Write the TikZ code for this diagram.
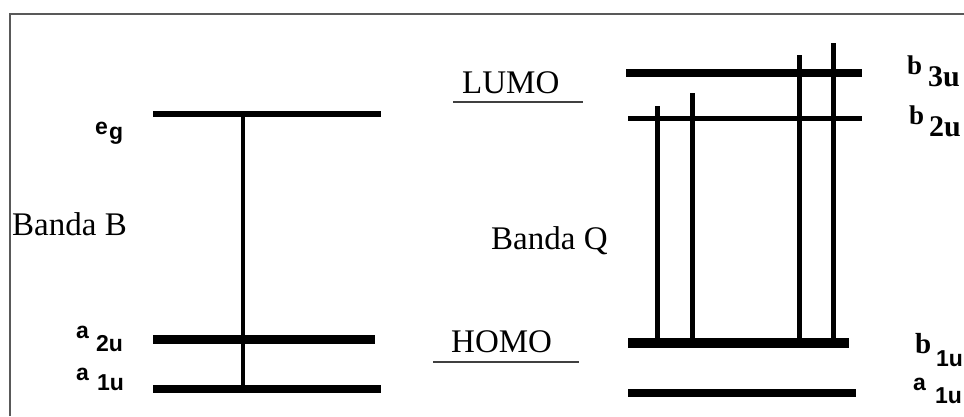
\documentclass[tikz,border=0pt]{standalone}
\usepackage{fontspec}
\setmainfont{Liberation Serif}
\newfontfamily\lsans{Liberation Sans}
\begin{document}
\begin{tikzpicture}[x=1pt,y=-1pt,
  txt/.style={inner sep=0pt,anchor=base west,font=\fontsize{33}{33}\selectfont},
  sml/.style={inner sep=0pt,anchor=base west,font=\lsans\bfseries\fontsize{23}{23}\selectfont},
  bsm/.style={inner sep=0pt,anchor=base west,font=\bfseries\fontsize{#1}{#1}\selectfont},
  frame/.style={draw=black!65,line width=2pt},
  uline/.style={draw=black!75,line width=1.6pt},
  lvl/.style={draw=black,line width=#1},
  trans/.style={draw=black,line width=#1}]
\useasboundingbox (0,0) rectangle (964,416);
\fill[white] (0,0) rectangle (964,416);
% frame
\coordinate (f1) at (10,416);
\coordinate (f2) at (10,14);
\coordinate (f3) at (964,14);
\draw[frame] (f1) -- (f2) -- (f3);

% ---------- left diagram ----------
\coordinate (egL) at (153,114);  \coordinate (egR) at (381,114);
\coordinate (a2L) at (153,339);  \coordinate (a2R) at (375,339);
\coordinate (a1L) at (153,389);  \coordinate (a1R) at (381,389);
\coordinate (vT) at (243,114);   \coordinate (vB) at (243,389);
\draw[lvl=6pt] (egL) -- (egR);
\draw[lvl=9pt] (a2L) -- (a2R);
\draw[lvl=7.5pt] (a1L) -- (a1R);
\draw[trans=4.5pt] (vT) -- (vB);

\node[sml] (le) at (95,134) {e};
\node[sml] (lg) at (109,139) {g};
\node[sml] (la2) at (76,338) {a};
\node[sml] (l2u) at (96,351) {2u};
\node[sml] (la1) at (76,380) {a};
\node[sml] (l1u) at (97,390) {1u};
\node[txt] (bandaB) at (12,235) {Banda B};

% ---------- right diagram ----------
\node[txt] (lumo) at (462,93) {LUMO};
\node[txt] (homo) at (451,352) {HOMO};
\coordinate (luL) at (453,102); \coordinate (luR) at (583,102);
\coordinate (hoL) at (433,362); \coordinate (hoR) at (579,362);
\draw[uline] (luL) -- (luR);
\draw[uline] (hoL) -- (hoR);
\node[txt] (bandaQ) at (491,249) {Banda Q};

\coordinate (b3L) at (626,73);  \coordinate (b3R) at (862,73);
\coordinate (b2L) at (628,118); \coordinate (b2R) at (862,118);
\coordinate (b1L) at (628,343); \coordinate (b1R) at (849,343);
\coordinate (r1L) at (628,393); \coordinate (r1R) at (856,393);
\draw[lvl=7.5pt] (b3L) -- (b3R);
\draw[lvl=5pt] (b2L) -- (b2R);
\draw[lvl=9.5pt] (b1L) -- (b1R);
\draw[lvl=8pt] (r1L) -- (r1R);

\coordinate (t1B) at (657,343); \coordinate (t1T) at (657,106);
\coordinate (t2B) at (692,343); \coordinate (t2T) at (692,93);
\coordinate (t3B) at (799,343); \coordinate (t3T) at (799,55);
\coordinate (t4B) at (833,343); \coordinate (t4T) at (833,43);
\draw[trans=5pt] (t1B) -- (t1T);
\draw[trans=5pt] (t2B) -- (t2T);
\draw[trans=5pt] (t3B) -- (t3T);
\draw[trans=5pt] (t4B) -- (t4T);

\node[bsm=27] (rb3) at (907,74) {b};
\node[bsm=30] (r3u) at (928,86) {3u};
\node[bsm=27] (rb2) at (909,124) {b};
\node[bsm=30] (r2u) at (929,136) {2u};
\node[bsm=29] (rb1) at (915,353) {b};
\node[sml] (r1u) at (936,366) {1u};
\node[sml] (ra1) at (913,390) {a};
\node[sml] (r1ub) at (935,403) {1u};
\end{tikzpicture}
\end{document}
